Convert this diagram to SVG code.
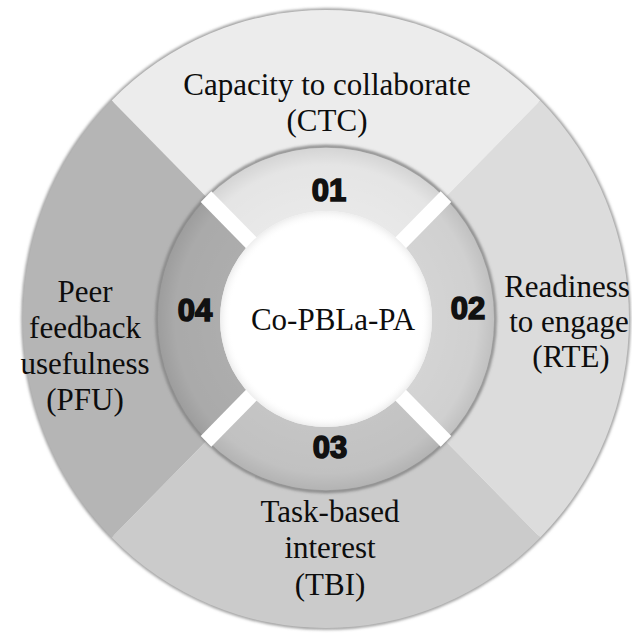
<svg xmlns="http://www.w3.org/2000/svg" width="632" height="639" viewBox="0 0 632 639">
  <style>
    .lbl { font-family: "Liberation Serif", "Times New Roman", serif; font-size: 31px; fill: #0d0d0d; text-anchor: middle; }
    .num { font-family: "Liberation Sans", Arial, sans-serif; font-size: 31px; font-weight: bold; fill: #111; stroke: #111; stroke-width: 1.6; text-anchor: middle; }
    .gap { stroke: #ffffff; stroke-width: 15; }
  </style>
  <defs>
    <filter id="soft" x="-10%" y="-10%" width="120%" height="120%">
      <feGaussianBlur stdDeviation="1.6"/>
    </filter>
    <radialGradient id="ringShade" cx="0" cy="0" r="168" gradientUnits="userSpaceOnUse">
      <stop offset="0.62" stop-color="#000" stop-opacity="0"/>
      <stop offset="0.9" stop-color="#000" stop-opacity="0.02"/>
      <stop offset="1" stop-color="#000" stop-opacity="0.09"/>
    </radialGradient>
    <radialGradient id="coreShade" cx="0" cy="0" r="106" gradientUnits="userSpaceOnUse">
      <stop offset="0.9" stop-color="#fff" stop-opacity="0"/>
      <stop offset="1" stop-color="#e9e9e9" stop-opacity="0.8"/>
    </radialGradient>
  </defs>

  <rect width="632" height="639" fill="#ffffff"/>

  <!-- wheel drawn about its centre, slightly taller than wide -->
  <g transform="translate(326,319) scale(1,1.02)">
    <!-- soft rim shadow of the outer disc -->
    <circle r="303" fill="none" stroke="#8c8c8c" stroke-width="3" filter="url(#soft)"/>

    <!-- outer quarter segments -->
    <g id="ctc">
      <path d="M0,0 L-214.25,-214.25 A303,303 0 0 1 214.25,-214.25 Z" fill="#ececec"/>
    </g>
    <g id="rte">
      <path d="M0,0 L214.25,-214.25 A303,303 0 0 1 214.25,214.25 Z" fill="#dcdcdc"/>
    </g>
    <g id="tbi">
      <path d="M0,0 L214.25,214.25 A303,303 0 0 1 -214.25,214.25 Z" fill="#cbcbcb"/>
    </g>
    <g id="pfu">
      <path d="M0,0 L-214.25,214.25 A303,303 0 0 1 -214.25,-214.25 Z" fill="#b5b5b5"/>
    </g>

    <!-- inner ring: shadow edge, segments, shading and white gaps -->
    <circle r="169" fill="none" stroke="#7e7e7e" stroke-width="3" filter="url(#soft)"/>
    <g id="ring-01">
      <path d="M0,0 L-118.8,-118.8 A168,168 0 0 1 118.8,-118.8 Z" fill="#e9e9e9"/>
    </g>
    <g id="ring-02">
      <path d="M0,0 L118.8,-118.8 A168,168 0 0 1 118.8,118.8 Z" fill="#d4d4d4"/>
    </g>
    <g id="ring-03">
      <path d="M0,0 L118.8,118.8 A168,168 0 0 1 -118.8,118.8 Z" fill="#c5c5c5"/>
    </g>
    <g id="ring-04">
      <path d="M0,0 L-118.8,118.8 A168,168 0 0 1 -118.8,-118.8 Z" fill="#adadad"/>
    </g>
    <circle r="168" fill="url(#ringShade)"/>
    <line class="gap" x1="-120" y1="-120" x2="120" y2="120"/>
    <line class="gap" x1="120" y1="-120" x2="-120" y2="120"/>

    <!-- white core -->
    <g id="center">
      <circle r="106" fill="#ffffff"/>
      <circle r="106" fill="url(#coreShade)"/>
    </g>
  </g>

  <!-- labels -->
  <g id="ctc-label">
    <text class="lbl" x="327" y="95">Capacity to collaborate</text>
    <text class="lbl" x="327" y="131">(CTC)</text>
  </g>
  <g id="rte-label">
    <text class="lbl" x="567" y="297">Readiness</text>
    <text class="lbl" x="569" y="332">to engage</text>
    <text class="lbl" x="571" y="367">(RTE)</text>
  </g>
  <g id="tbi-label">
    <text class="lbl" x="330" y="522">Task-based</text>
    <text class="lbl" x="330" y="558">interest</text>
    <text class="lbl" x="330" y="595">(TBI)</text>
  </g>
  <g id="pfu-label">
    <text class="lbl" x="85" y="302">Peer</text>
    <text class="lbl" x="85" y="338">feedback</text>
    <text class="lbl" x="85" y="374">usefulness</text>
    <text class="lbl" x="85" y="410">(PFU)</text>
  </g>
  <g id="center-label">
    <text class="lbl" x="333" y="330">Co-PBLa-PA</text>
  </g>
  <g id="numbers">
    <text class="num" x="329" y="201">01</text>
    <text class="num" x="468" y="319">02</text>
    <text class="num" x="330" y="458">03</text>
    <text class="num" x="195" y="321">04</text>
  </g>
</svg>
